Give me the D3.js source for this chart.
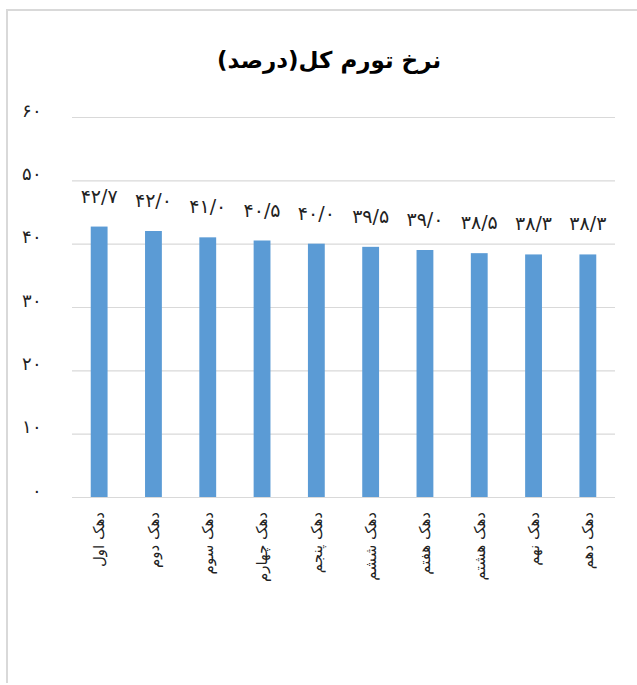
<!DOCTYPE html>
<html>
<head>
<meta charset="utf-8">
<script src="https://cdn.jsdelivr.net/npm/d3@7"></script>
<style>
  body { margin: 0; background: #fff; }
  svg { display: block; font-family: "DejaVu Sans", sans-serif; }
</style>
</head>
<body>
<svg width="637" height="685"></svg>
<script>
  const categories = ["دهک اول", "دهک دوم", "دهک سوم", "دهک چهارم", "دهک پنجم",
                      "دهک ششم", "دهک هفتم", "دهک هشتم", "دهک نهم", "دهک دهم"];
  const values = [42.7, 42.0, 41.0, 40.5, 40.0, 39.5, 39.0, 38.5, 38.3, 38.3];
  const yTicks = [0, 10, 20, 30, 40, 50, 60];
  const title = "نرخ تورم کل(درصد)";

  const svg = d3.select("svg");

  // persian digits, "/" as decimal mark
  const fa = "۰۱۲۳۴۵۶۷۸۹";
  function toFa(s) {
    return String(s).replace(/\d/g, d => fa[+d]).replace(".", "/");
  }

  const x = d3.scaleBand()
    .domain(categories)
    .range([72, 615])
    .paddingInner(0.69)
    .paddingOuter(0.345);

  const y = d3.scaleLinear()
    .domain([0, 60])
    .range([497, 117]);

  // frame
  svg.append("path")
    .attr("d", "M7,683V10H637")
    .attr("fill", "none")
    .attr("stroke", "#d9d9d9")
    .attr("stroke-width", 2);

  svg.append("text")
    .attr("x", 329)
    .attr("y", 68)
    .attr("text-anchor", "middle")
    .attr("font-size", 23)
    .attr("font-weight", "bold")
    .attr("direction", "rtl")
    .attr("fill", "#000")
    .text(title);

  const axisY = d3.axisLeft(y)
    .tickValues(yTicks)
    .tickSize(-(615 - 72))
    .tickFormat(toFa)
    .tickPadding(30);

  svg.append("g")
    .attr("transform", "translate(72,0)")
    .call(axisY)
    .call(g => g.select(".domain").remove())
    .call(g => g.selectAll("line").attr("stroke", "#d9d9d9").attr("stroke-width", 1.2))
    .call(g => g.selectAll("text")
      .attr("font-size", 18)
      .attr("fill", "#222")
      .attr("dy", "-0.05em"));

  svg.append("g")
    .selectAll("rect")
    .data(values)
    .join("rect")
    .attr("x", (d, i) => x(categories[i]))
    .attr("y", d => y(d))
    .attr("width", x.bandwidth())
    .attr("height", d => y(0) - y(d))
    .attr("fill", "#5b9bd5");

  svg.append("g")
    .selectAll("text")
    .data(values)
    .join("text")
    .attr("x", (d, i) => x(categories[i]) + x.bandwidth() / 2)
    .attr("y", d => y(d) - 24)
    .attr("text-anchor", "middle")
    .attr("font-size", 19)
    .attr("fill", "#222")
    .text(d => toFa(d.toFixed(1)));

  // labels read top to bottom, first word at the top
  svg.append("g")
    .selectAll("text")
    .data(categories)
    .join("text")
    .attr("transform", d => `translate(${x(d) + x.bandwidth() / 2},512) rotate(-90)`)
    .attr("text-anchor", "end")
    .attr("dy", "0.35em")
    .attr("font-size", 15)
    .attr("fill", "#222")
    .text(d => d);
</script>
</body>
</html>
